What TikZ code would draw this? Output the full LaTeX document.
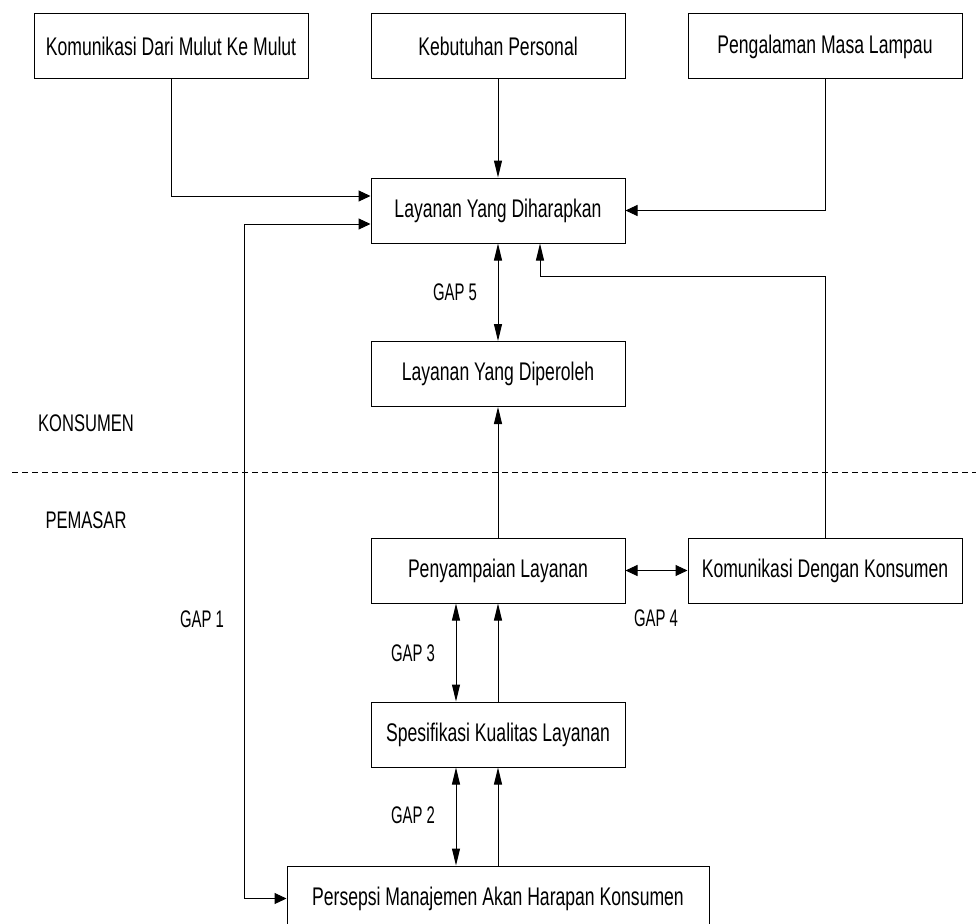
\documentclass[tikz,border=0pt]{standalone}
\usepackage{fontspec}
\setmainfont[FakeStretch=0.69]{Liberation Sans}
\newfontfamily\gapfont[FakeStretch=0.62]{Liberation Sans}
\usetikzlibrary{arrows.meta,calc}
\begin{document}
\begin{tikzpicture}[x=1pt,y=-1pt,
  box/.style={draw,line width=1pt,minimum height=65pt,inner sep=0pt,font=\fontsize{25.5}{28}\selectfont},
  lbl/.style={inner sep=0pt,font=\fontsize{24}{28}\selectfont},
  gaplbl/.style={inner sep=0pt,font=\gapfont\fontsize{24}{28}\selectfont},
  conn/.style={line width=1pt},
  vtip/.tip={Triangle[length=17pt,width=8pt]},
  htip/.tip={Triangle[length=12pt,width=11pt]},
  varr/.style={conn,-vtip},
  harr/.style={conn,-htip},
  dvarr/.style={conn,vtip-vtip},
  dharr/.style={conn,htip-htip}]
\clip (0,0) rectangle (976,923);
\fill[white] (0,0) rectangle (976,923);
% boxes
\node[box,minimum width=274pt] (k1) at (171,46.5) {Komunikasi Dari Mulut Ke Mulut};
\node[box,minimum width=254pt] (k2) at (498,46.5) {Kebutuhan Personal};
\node[box,minimum width=274pt] (k3) at (825,46.5) {Pengalaman Masa Lampau};
\node[box,minimum width=254pt] (dh) at (498,210.5) {Layanan Yang Diharapkan};
\node[box,minimum width=254pt] (dp) at (498,374) {Layanan Yang Diperoleh};
\node[box,minimum width=254pt] (ps) at (498,570.5) {Penyampaian Layanan};
\node[box,minimum width=274pt] (kdk) at (825,570.5) {Komunikasi Dengan Konsumen};
\node[box,minimum width=254pt] (sp) at (498,734.5) {Spesifikasi Kualitas Layanan};
\node[box,minimum width=422pt] (pm) at (498,898.5) {Persepsi Manajemen Akan Harapan Konsumen};
% labels
\node[lbl] (kons) at (86,423) {KONSUMEN};
\node[lbl] (pem) at (86,520) {PEMASAR};
\node[gaplbl] (g5) at (455,292) {GAP 5};
\node[gaplbl] (g1) at (202,619) {GAP 1};
\node[gaplbl] (g3) at (413,653) {GAP 3};
\node[gaplbl] (g2) at (413,815) {GAP 2};
\node[gaplbl] (g4) at (656,618) {GAP 4};
% dashed separator
\coordinate (dl) at (12,472);
\coordinate (dr) at (976,472);
\draw[conn,dash pattern=on 6pt off 4pt] (dl) -- (dr);
% connectors
\draw[harr] (k1.south) |- ([yshift=14.5pt]dh.west);
\draw[varr] (k2.south) -- (dh.north);
\draw[harr] (k3.south) |- (dh.east);
\draw[dvarr] (dh.south) -- (dp.north);
\draw[varr] (kdk.north) |- ($(dh.south)+(42,33)$) -- ([xshift=42pt]dh.south);
\draw[varr] (ps.north) -- (dp.south);
\draw[dharr] (ps.east) -- (kdk.west);
\draw[dvarr] ([xshift=-42pt]ps.south) -- ([xshift=-42pt]sp.north);
\draw[varr] (sp.north) -- (ps.south);
\draw[dvarr] ([xshift=-42pt]sp.south) -- ([xshift=-42pt]pm.north);
\draw[varr] (pm.north) -- (sp.south);
\draw[dharr] ([yshift=-13.5pt]dh.west) -- ++(-126,0) |- (pm.west);
\end{tikzpicture}
\end{document}
